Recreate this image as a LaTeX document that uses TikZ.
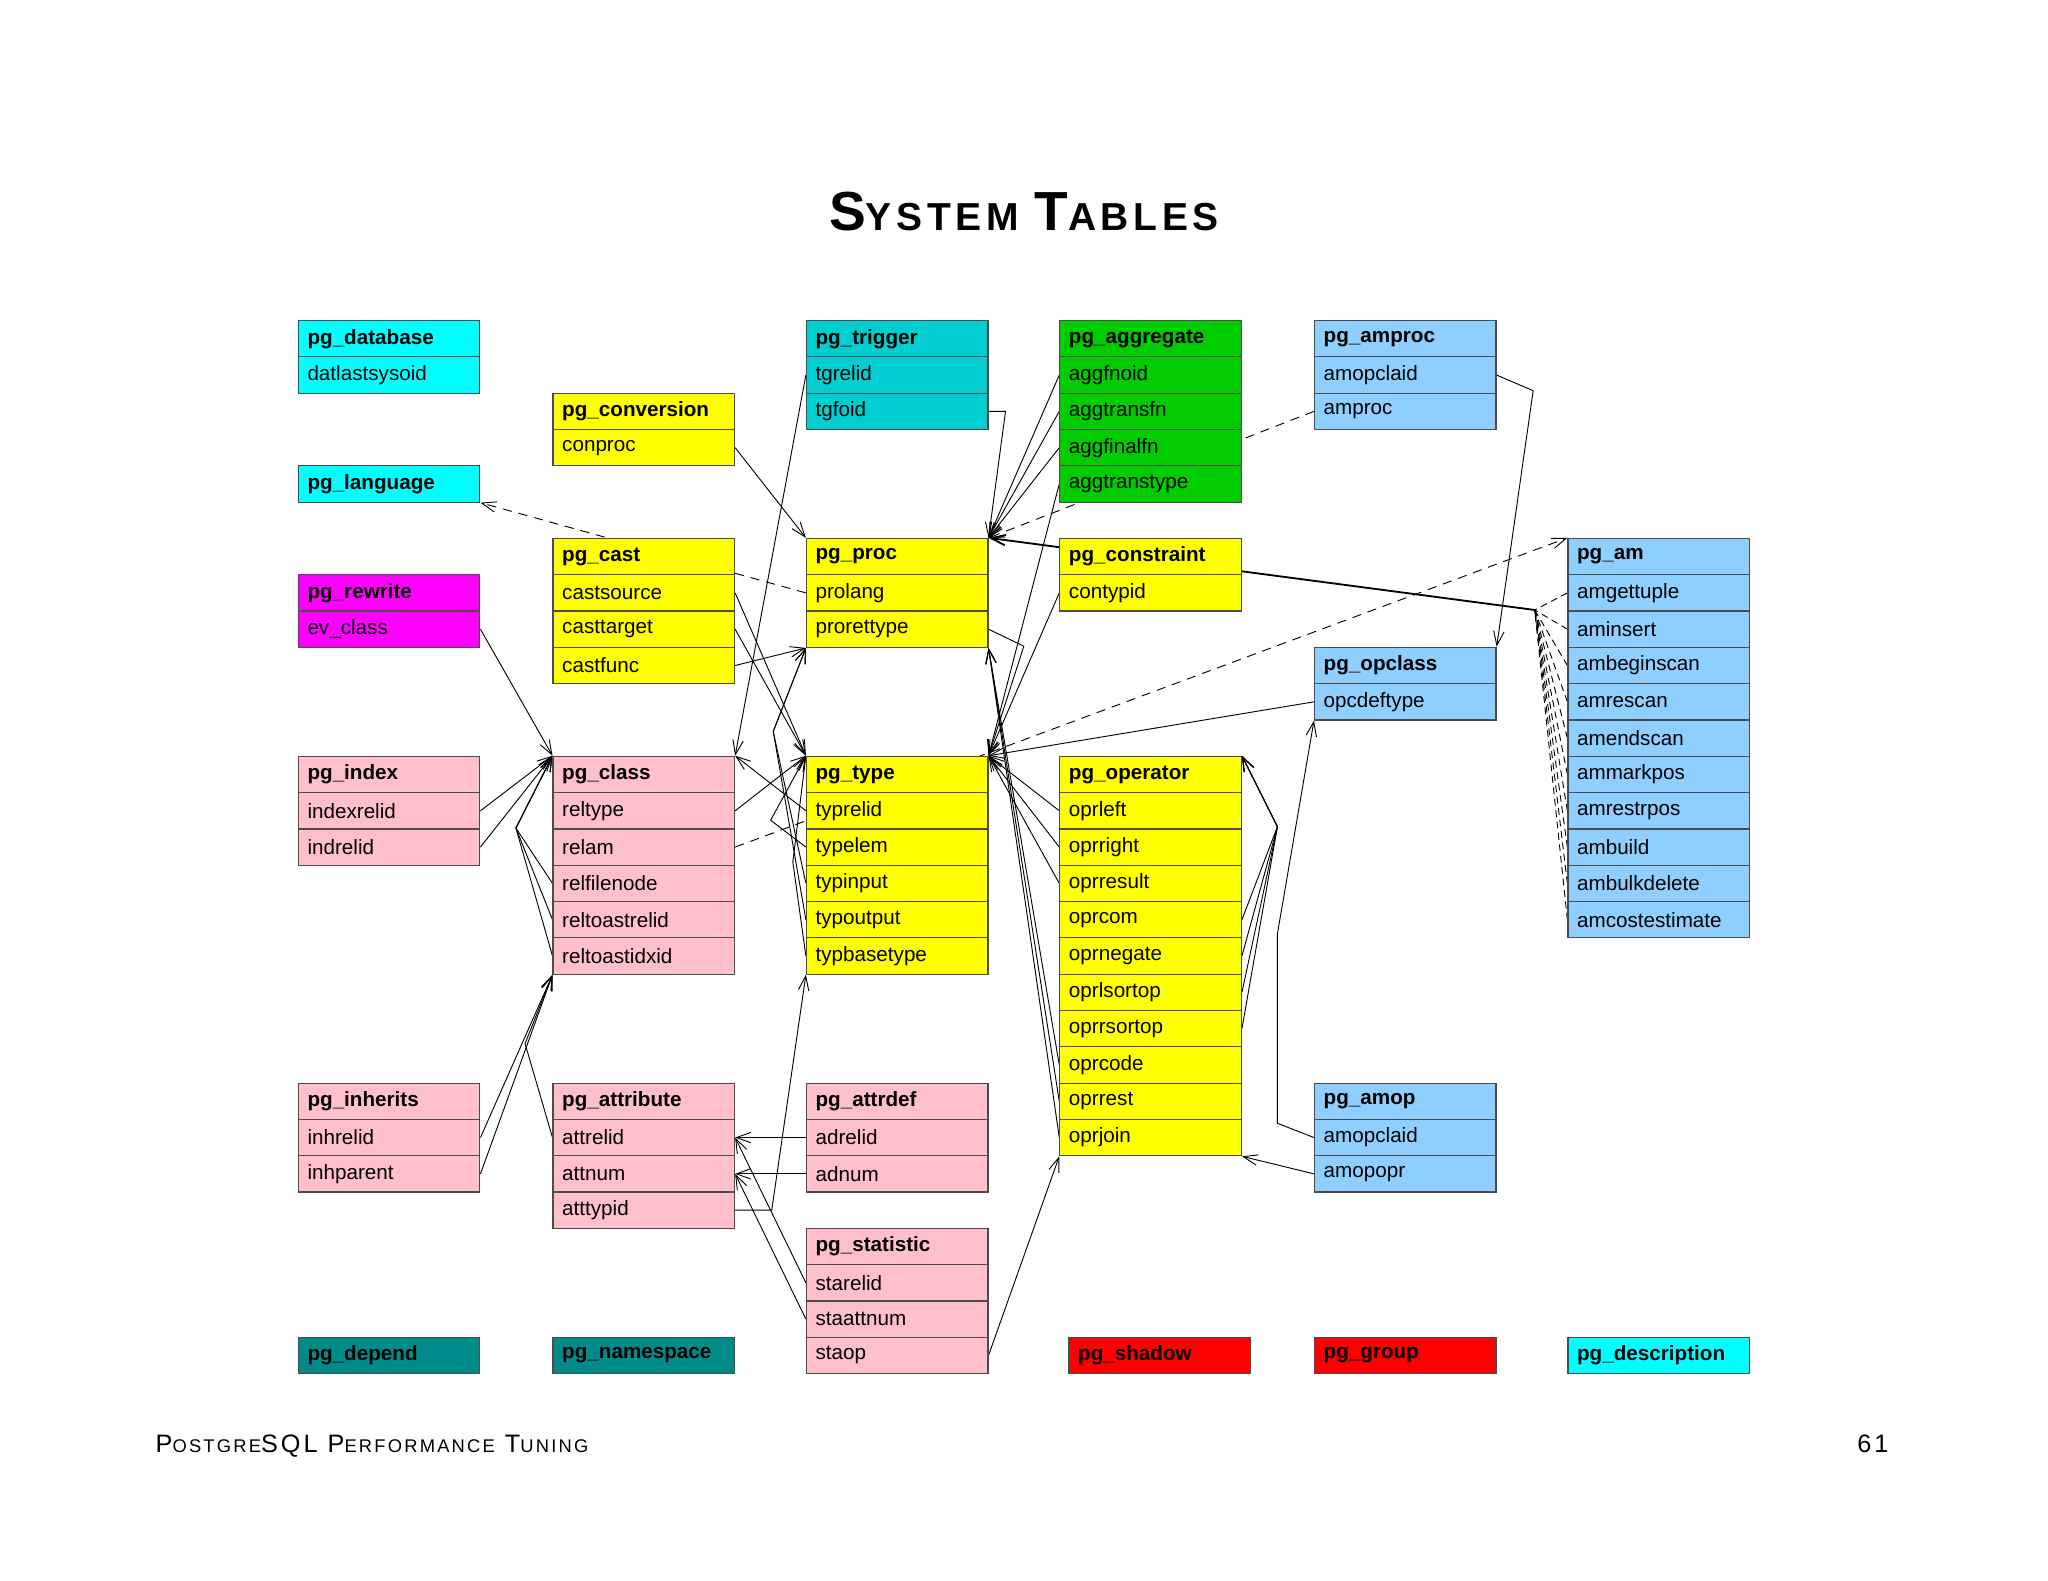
\documentclass[tikz,border=0pt]{standalone}
\usepackage{fontspec}
\setmainfont{Liberation Sans}
\newfontfamily\ttlfont{Liberation Sans}[LetterSpace=12]
\usetikzlibrary{arrows.meta,backgrounds}

\definecolor{cyanc}{HTML}{00FFFF}
\definecolor{trigc}{HTML}{00CED1}
\definecolor{yellc}{HTML}{FFFF00}
\definecolor{pinkc}{HTML}{FFC0CB}
\definecolor{magc}{HTML}{FF00FF}
\definecolor{greenc}{HTML}{00CC00}
\definecolor{bluec}{HTML}{8ECFFF}
\definecolor{tealc}{HTML}{008B8B}
\definecolor{redc}{HTML}{FF0000}

\tikzset{
  cell/.style = {draw = black!70, line width = 0.5pt, anchor = north west,
                 minimum width = 2.78cm, minimum height = 0.556cm,
                 text width = 2.5cm, inner xsep = 0.14cm, inner ysep = 0pt,
                 align = left, font = \fontsize{9}{9}\selectfont},
  hdr/.style  = {cell, font = \fontsize{9}{9}\selectfont\bfseries},
  conn/.style = {-{Straight Barb[length = 2.2mm, width = 1.6mm]}, line width = 0.4pt},
  ref/.style  = {conn, dash pattern = on 4pt off 3pt}
}

% table: name, title, x, row, colour, fields
\newcommand\dbtable[6]{%
  \node [hdr, fill = #5] (#1) at (#3, {245 + 27.8*#4}) {#2};
  \foreach \f [count = \i] in {#6}
    \node [cell, fill = #5] (#1-\f) at (#3, {245 + 27.8*(#4 + \i)}) {\f};
}
\newcommand\dbhead[5]{%
  \node [hdr, fill = #5] (#1) at (#3, {245 + 27.8*#4}) {#2};
}

\begin{document}
\catcode`\_=12
\begin{tikzpicture}[x = 0.02cm, y = -0.02cm]
  \useasboundingbox (0, 0) rectangle (1568, 1210);

  \node (title) at (784, 162) {\ttlfont\bfseries\fontsize{24}{24}\selectfont
    S\fontsize{17}{17}\selectfont YSTEM \fontsize{24}{24}\selectfont
    T\fontsize{17}{17}\selectfont ABLES};
  \node [anchor = base west] (foot) at (113, 1112) {\ttlfont\fontsize{11}{11}\selectfont
    P{\fontsize{8}{8}\selectfont OSTGRE}SQL P{\fontsize{8}{8}\selectfont ERFORMANCE}
    T{\fontsize{8}{8}\selectfont UNING}};
  \node [anchor = base east] (page) at (1452, 1112) {\ttlfont\fontsize{11}{11}\selectfont 61};

  % column 1
  \dbtable{database}{pg_database}{228}{0}{cyanc}{datlastsysoid}
  \dbhead{language}{pg_language}{228}{4}{cyanc}
  \dbtable{rewrite}{pg_rewrite}{228}{7}{magc}{ev_class}
  \dbtable{index}{pg_index}{228}{12}{pinkc}{indexrelid, indrelid}
  \dbtable{inherits}{pg_inherits}{228}{21}{pinkc}{inhrelid, inhparent}
  \dbhead{depend}{pg_depend}{228}{28}{tealc}

  % column 2
  \dbtable{conversion}{pg_conversion}{423}{2}{yellc}{conproc}
  \dbtable{cast}{pg_cast}{423}{6}{yellc}{castsource, casttarget, castfunc}
  \dbtable{class}{pg_class}{423}{12}{pinkc}{reltype, relam, relfilenode, reltoastrelid, reltoastidxid}
  \dbtable{attribute}{pg_attribute}{423}{21}{pinkc}{attrelid, attnum, atttypid}
  \dbhead{namespace}{pg_namespace}{423}{28}{tealc}

  % column 3
  \dbtable{trigger}{pg_trigger}{617}{0}{trigc}{tgrelid, tgfoid}
  \dbtable{proc}{pg_proc}{617}{6}{yellc}{prolang, prorettype}
  \dbtable{type}{pg_type}{617}{12}{yellc}{typrelid, typelem, typinput, typoutput, typbasetype}
  \dbtable{attrdef}{pg_attrdef}{617}{21}{pinkc}{adrelid, adnum}
  \dbtable{statistic}{pg_statistic}{617}{25}{pinkc}{starelid, staattnum, staop}

  % column 4
  \dbtable{aggregate}{pg_aggregate}{811}{0}{greenc}{aggfnoid, aggtransfn, aggfinalfn, aggtranstype}
  \dbtable{constraint}{pg_constraint}{811}{6}{yellc}{contypid}
  \dbtable{operator}{pg_operator}{811}{12}{yellc}{oprleft, oprright, oprresult, oprcom, oprnegate,
    oprlsortop, oprrsortop, oprcode, oprrest, oprjoin}
  \dbhead{shadow}{pg_shadow}{818}{28}{redc}

  % column 5
  \dbtable{amproc}{pg_amproc}{1006}{0}{bluec}{amopclaid, amproc}
  \dbtable{opclass}{pg_opclass}{1006}{9}{bluec}{opcdeftype}
  \dbtable{amop}{pg_amop}{1006}{21}{bluec}{amopclaid, amopopr}
  \dbhead{group}{pg_group}{1006}{28}{redc}

  % column 6
  \dbtable{am}{pg_am}{1200}{6}{bluec}{amgettuple, aminsert, ambeginscan, amrescan, amendscan,
    ammarkpos, amrestrpos, ambuild, ambulkdelete, amcostestimate}
  \dbhead{description}{pg_description}{1200}{28}{cyanc}

  \coordinate (amjoin)   at (1175, 467);
  \coordinate (classjn)  at (395, 634);
  \coordinate (attjn)    at (402, 799);
  \coordinate (typejn)   at (590, 628);
  \coordinate (procjn)   at (592, 560);
  \coordinate (oprjn)    at (978, 633);
  \coordinate (amopjn)   at (978, 715);

  \begin{pgfonlayer}{background}
    \draw [conn] (trigger-tgrelid.west) -- (class.north east);
    \draw [conn] (trigger-tgfoid.east) -- ++(13, 0) -- (proc.north east);
    \draw [conn] (conversion-conproc.east) -- (proc.north west);
    \draw [ref]  (proc-prolang.west) -- (language.south east);
    \draw [conn] (cast-castsource.east) -- (type.north west);
    \draw [conn] (cast-casttarget.east) -- (type.north west);
    \draw [conn] (cast-castfunc.east) -- (proc-prorettype.south west);
    \draw [conn] (rewrite-ev_class.east) -- (class.north west);
    \draw [conn] (index-indexrelid.east) -- (class.north west);
    \draw [conn] (index-indrelid.east) -- (class.north west);
    \foreach \f in {relfilenode, reltoastrelid, reltoastidxid}
      \draw [conn] (class-\f.west) -- (classjn) -- (class.north west);
    \draw [conn] (inherits-inhrelid.east) -- (class-reltoastidxid.south west);
    \draw [conn] (inherits-inhparent.east) -- (class-reltoastidxid.south west);
    \draw [conn] (attribute-attrelid.west) -- (attjn) -- (class-reltoastidxid.south west);
    \draw [conn] (class-reltype.east) -- (type.north west);
    \draw [ref]  (class-relam.east) -- (am.north west);
    \draw [conn] (type-typrelid.west) -- (class.north east);
    \draw [conn] (type-typelem.west) -- (typejn) -- (type.north west);
    \draw [conn] (type-typbasetype.west) -- (607, 660) -- (type.north west);
    \draw [conn] (type-typinput.west) -- (procjn) -- (proc-prorettype.south west);
    \draw [conn] (type-typoutput.west) -- (procjn) -- (proc-prorettype.south west);
    \draw [conn] (attribute-atttypid.east) -- ++(28, 0) -- (type-typbasetype.south west);
    \draw [conn] (attrdef-adrelid.west) -- (attribute-attrelid.east);
    \draw [conn] (attrdef-adnum.west) -- (attribute-attnum.east);
    \draw [conn] (statistic-starelid.west) -- (attribute-attrelid.east);
    \draw [conn] (statistic-staattnum.west) -- (attribute-attnum.east);
    \draw [conn] (statistic-staop.east) -- (operator-oprjoin.south west);
    \draw [conn] (proc-prorettype.east) -- ++(27, 13) -- (type.north east);
    \foreach \f in {aggfnoid, aggtransfn, aggfinalfn}
      \draw [conn] (aggregate-\f.west) -- (proc.north east);
    \draw [conn] (aggregate-aggtranstype.west) -- (type.north east);
    \draw [ref]  (amproc-amproc.west) -- (proc.north east);
    \foreach \f in {amgettuple, aminsert, ambeginscan, amrescan, amendscan,
                    ammarkpos, amrestrpos, ambuild, ambulkdelete, amcostestimate}
      \draw [dash pattern = on 3pt off 2pt, line width = 0.4pt] (am-\f.west) -- (amjoin);
    \draw [conn, line width = 0.8pt] (amjoin) -- (proc.north east);
    \draw [conn] (constraint-contypid.west) -- (type.north east);
    \draw [conn] (amproc-amopclaid.east) -- ++(28, 12) -- (opclass.north east);
    \draw [conn] (opclass-opcdeftype.west) -- (type.north east);
    \foreach \f in {oprleft, oprright, oprresult}
      \draw [conn] (operator-\f.west) -- (type.north east);
    \foreach \f in {oprcode, oprrest, oprjoin}
      \draw [conn] (operator-\f.west) -- (proc-prorettype.south east);
    \foreach \f in {oprcom, oprnegate, oprlsortop, oprrsortop}
      \draw [conn] (operator-\f.east) -- (oprjn) -- (operator.north east);
    \draw [conn] (amop-amopclaid.west) -- (978, 860) -- (amopjn) -- (opclass-opcdeftype.south west);
    \draw [conn] (amop-amopopr.west) -- (operator-oprjoin.south east);
  \end{pgfonlayer}
\end{tikzpicture}
\end{document}
